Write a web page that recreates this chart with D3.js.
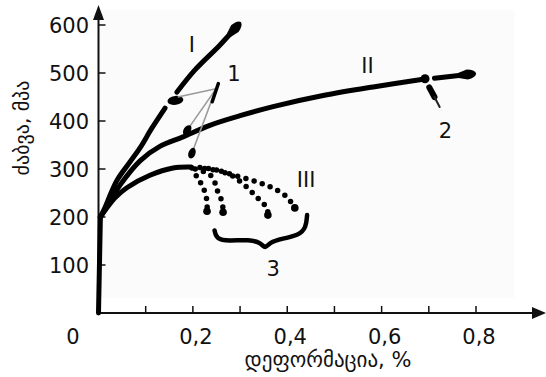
<!DOCTYPE html>
<html>
<head>
<meta charset="utf-8">
<script src="https://d3js.org/d3.v7.min.js"></script>
<style>
  body { margin: 0; background: #fff; }
  text { font-family: "DejaVu Sans", sans-serif; fill: #111; }
</style>
</head>
<body>
<svg id="chart" width="546" height="377"></svg>
<script>
// strain (%) vs stress (MPa)
var xTicks = [0.1, 0.2, 0.3, 0.4, 0.5, 0.6, 0.7, 0.8];
var xLabels = [0.2, 0.4, 0.6, 0.8];
var yTicks = [100, 200, 300, 400, 500, 600];

var elastic = [[0, 0], [0.004, 200]];
var curveI = [[0.004, 200], [0.012, 216], [0.039, 276], [0.067, 315], [0.088, 344], [0.113, 385], [0.141, 427]];
var curveIend = [[0.166, 460], [0.204, 506], [0.257, 558], [0.296, 600]];
var curveII = [[0.004, 200], [0.014, 216], [0.046, 267], [0.088, 317], [0.13, 347], [0.179, 367], [0.236, 391],
               [0.30, 411], [0.37, 430], [0.476, 453], [0.582, 471], [0.688, 487]];
var curveIIend = [[0.712, 489], [0.792, 498]];
var curveIII = [[0.004, 200], [0.014, 214], [0.035, 240], [0.06, 261], [0.109, 287], [0.158, 302], [0.196, 304]];

var dotted = [
  [[0.198, 302], [0.209, 283], [0.219, 267], [0.226, 250], [0.230, 231], [0.230, 212]],
  [[0.205, 300], [0.236, 288], [0.247, 271], [0.253, 252], [0.262, 231], [0.264, 210]],
  [[0.215, 303], [0.240, 300], [0.279, 288], [0.304, 271], [0.325, 252], [0.342, 235], [0.357, 219], [0.359, 204]],
  [[0.225, 301], [0.257, 296], [0.295, 285], [0.336, 273], [0.370, 260], [0.399, 242], [0.416, 219]]
];

var brace = [[0.246, 172], [0.250, 154], [0.275, 150], [0.32, 153], [0.345, 146], [0.353, 133],
             [0.362, 147], [0.39, 155], [0.425, 162], [0.44, 178], [0.442, 204]];

// pointer for point 1: apex and the three points it marks
var apex1 = [0.249, 467];
var targets1 = [[0.168, 450], [0.188, 381], [0.198, 333]];
var spike1 = [[0.254, 478], [0.241, 440]];
var blobI = [0.163, 443];
var beadII = [0.692, 488];
var pointer2 = [[0.701, 470], [0.712, 450], [0.723, 429]];

var labels = [
  {t: "I", e: 0.198, s: 560},
  {t: "1", e: 0.287, s: 500},
  {t: "II", e: 0.57, s: 517},
  {t: "2", e: 0.735, s: 382},
  {t: "III", e: 0.44, s: 280},
  {t: "3", e: 0.37, s: 93}
];

var svg = d3.select("#chart");
var x = d3.scaleLinear().domain([0, 0.8]).range([98.5, 476]);
var y = d3.scaleLinear().domain([0, 600]).range([313, 25]);

// faint plot background
svg.append("rect").attr("x", 100).attr("y", 10).attr("width", 414).attr("height", 288).attr("fill", "#fbfbfb");

// axes
svg.append("line").attr("x1", x(0)).attr("y1", y(0)).attr("x2", 538).attr("y2", y(0))
  .attr("stroke", "#111").attr("stroke-width", 2);
svg.append("path").attr("d", "M546," + y(0) + " L532," + (y(0) - 6) + " L532," + (y(0) + 6) + " Z").attr("fill", "#111");
svg.append("line").attr("x1", x(0)).attr("y1", y(0)).attr("x2", x(0)).attr("y2", 14)
  .attr("stroke", "#111").attr("stroke-width", 2);
svg.append("path").attr("d", "M" + x(0) + ",5 L" + (x(0) - 5.5) + ",20 L" + (x(0) + 5.5) + ",20 Z").attr("fill", "#111");

svg.selectAll(".xt").data(xTicks).enter().append("line")
  .attr("x1", d => x(d)).attr("x2", d => x(d)).attr("y1", y(0)).attr("y2", y(0) - 7)
  .attr("stroke", "#111").attr("stroke-width", 1.5);
svg.selectAll(".yt").data(yTicks).enter().append("line")
  .attr("x1", x(0)).attr("x2", x(0) + 7).attr("y1", d => y(d)).attr("y2", d => y(d))
  .attr("stroke", "#111").attr("stroke-width", 1.5);

svg.selectAll(".xl").data(xLabels).enter().append("text")
  .attr("x", d => x(d) + 3).attr("y", 344).attr("text-anchor", "middle").attr("font-size", 21)
  .text(d => d3.format(".1f")(d).replace(".", ","));
svg.selectAll(".yl").data(yTicks).enter().append("text")
  .attr("x", 89).attr("y", d => y(d) + 8).attr("text-anchor", "end").attr("font-size", 21)
  .text(d => d);
svg.append("text").attr("x", 73).attr("y", 344).attr("text-anchor", "middle").attr("font-size", 21).text("0");

svg.append("text").attr("x", 328).attr("y", 367).attr("text-anchor", "middle").attr("font-size", 21)
  .text("დეფორმაცია, %");
svg.append("text").attr("transform", "translate(29,128) rotate(-90)").attr("text-anchor", "middle")
  .attr("font-size", 20).text("ძაბვა, მპა");

// curves
var line = d3.line().x(d => x(d[0])).y(d => y(d[1])).curve(d3.curveCatmullRom);
function thick(data, w) {
  svg.append("path").attr("d", line(data)).attr("fill", "none").attr("stroke", "#000")
    .attr("stroke-width", w).attr("stroke-linecap", "round");
}
thick(elastic, 5);
thick(curveI, 5);
thick(curveII, 5);
thick(curveIII, 5);
thick(curveIend, 5);
thick(curveIIend, 5);

// teardrop ends of the arrows
function head(data) {
  var a = data[data.length - 2], b = data[data.length - 1];
  var ang = Math.atan2(y(b[1]) - y(a[1]), x(b[0]) - x(a[0])) * 180 / Math.PI;
  svg.append("path").attr("d", "M-14,-2.5 L-5,-5 Q3,-4 4,0 Q3,4 -5,5 L-14,2.5 Z")
    .attr("transform", "translate(" + x(b[0]) + "," + y(b[1]) + ") rotate(" + ang + ")").attr("fill", "#000");
}
head(curveIend);
head(curveIIend);

svg.append("ellipse").attr("cx", x(blobI[0])).attr("cy", y(blobI[1])).attr("rx", 8).attr("ry", 4.5)
  .attr("transform", "rotate(-8," + x(blobI[0]) + "," + y(blobI[1]) + ")").attr("fill", "#000");
svg.append("circle").attr("cx", x(beadII[0])).attr("cy", y(beadII[1])).attr("r", 4.5).attr("fill", "#000");

// dotted branches
dotted.forEach(function (d) {
  svg.append("path").attr("d", line(d)).attr("fill", "none").attr("stroke", "#000")
    .attr("stroke-width", 5.5).attr("stroke-linecap", "round").attr("stroke-dasharray", "0 8.5");
  var e = d[d.length - 1];
  svg.append("circle").attr("cx", x(e[0])).attr("cy", y(e[1])).attr("r", 3.8).attr("fill", "#000");
});

// brace
svg.append("path").attr("d", d3.line().x(d => x(d[0])).y(d => y(d[1])).curve(d3.curveBasis)(brace))
  .attr("fill", "none").attr("stroke", "#000").attr("stroke-width", 4.5).attr("stroke-linecap", "round");

// pointer 1
targets1.forEach(function (t) {
  svg.append("line").attr("x1", x(apex1[0])).attr("y1", y(apex1[1])).attr("x2", x(t[0])).attr("y2", y(t[1]))
    .attr("stroke", "#9a9a9a").attr("stroke-width", 1.6);
});
svg.append("path").attr("d", line(spike1)).attr("stroke", "#000").attr("stroke-width", 3.5).attr("stroke-linecap", "round");
targets1.slice(1).forEach(function (t) {
  var ang = Math.atan2(y(apex1[1]) - y(t[1]), x(apex1[0]) - x(t[0])) * 180 / Math.PI;
  svg.append("ellipse").attr("cx", x(t[0])).attr("cy", y(t[1])).attr("rx", 5.5).attr("ry", 3.5)
    .attr("transform", "rotate(" + ang + "," + x(t[0]) + "," + y(t[1]) + ")").attr("fill", "#000");
});

// pointer 2
svg.append("path").attr("d", line(pointer2.slice(0, 2))).attr("stroke", "#000").attr("stroke-width", 6).attr("stroke-linecap", "round");
svg.append("path").attr("d", line(pointer2.slice(1))).attr("stroke", "#222").attr("stroke-width", 2).attr("stroke-linecap", "round");

svg.selectAll(".lab").data(labels).enter().append("text")
  .attr("x", d => x(d.e)).attr("y", d => y(d.s) + 8).attr("text-anchor", "middle").attr("font-size", 21)
  .text(d => d.t);
</script>
</body>
</html>
